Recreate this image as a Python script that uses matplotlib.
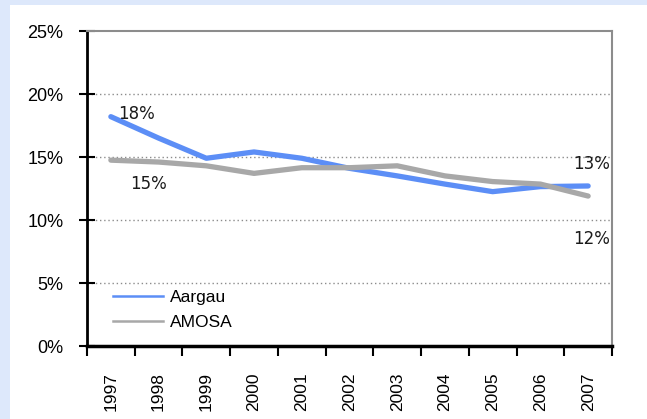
import matplotlib
matplotlib.use("Agg")
import matplotlib.pyplot as plt
from matplotlib.lines import Line2D
from matplotlib.patches import Rectangle
import numpy as np

years = ["1997", "1998", "1999", "2000", "2001", "2002", "2003", "2004", "2005", "2006", "2007"]
aargau = [18.2, 16.5, 14.9, 15.4, 14.9, 14.1, 13.5, 12.85, 12.25, 12.65, 12.7]
amosa = [14.75, 14.6, 14.3, 13.7, 14.15, 14.15, 14.3, 13.5, 13.05, 12.85, 11.9]
yticks = [0, 5, 10, 15, 20, 25]
ytick_labels = ["0%", "5%", "10%", "15%", "20%", "25%"]

BLUE = "#5C8EF6"
GRAY = "#A8A8A8"
BG = "#DDE8FB"

fig = plt.figure(figsize=(6.47, 4.19), dpi=100)
fig.patch.set_facecolor(BG)
fig.add_artist(Rectangle((10 / 647, 0), 1, 1 - 5 / 419, transform=fig.transFigure,
                         facecolor="white", edgecolor="none", zorder=0))

ax = fig.add_axes([87 / 647, 1 - 346 / 419, (612 - 87) / 647, (346 - 31) / 419])
ax.set_facecolor("white")
x = np.arange(len(years))
ax.plot(x, aargau, color=BLUE, lw=3.8, solid_capstyle="round", solid_joinstyle="round", zorder=3)
ax.plot(x, amosa, color=GRAY, lw=3.8, solid_capstyle="round", solid_joinstyle="round", zorder=3)

ax.set_xlim(-0.5, len(years) - 0.5)
ax.set_ylim(0, 25)
ax.set_yticks(yticks)
ax.set_yticklabels(ytick_labels, fontfamily="Liberation Sans", fontsize=13)
ax.tick_params(axis="y", direction="inout", length=12, width=1.5, pad=11)
for yv in yticks[1:-1]:
    ax.axhline(yv, color="#8C8C8C", lw=1.0, ls=(0, (1, 2)), zorder=1)

ax.set_xticks(x)
ax.set_xticklabels(years, rotation=90, fontfamily="Liberation Sans", fontsize=12.5, va="top")
ax.tick_params(axis="x", which="major", length=0, pad=19)
ax.set_xticks(np.arange(-0.5, len(years)), minor=True)
ax.tick_params(axis="x", which="minor", direction="out", length=7, width=1.5)

for s in ["left", "bottom"]:
    ax.spines[s].set_color("black")
ax.spines["left"].set_linewidth(2)
ax.spines["bottom"].set_linewidth(2.5)
for s in ["top", "right"]:
    ax.spines[s].set_color("#8C8C8C")
    ax.spines[s].set_linewidth(1.5)

lab_font = dict(fontfamily="DejaVu Sans", fontsize=12, color="#1a1a1a")
ax.annotate("18%", (0, aargau[0]), xytext=(5, 2), textcoords="offset points", ha="left", va="center", **lab_font)
ax.annotate("15%", (0, amosa[0]), xytext=(14, -17), textcoords="offset points", ha="left", va="center", **lab_font)
ax.annotate("13%", (10, aargau[-1]), xytext=(16, 16), textcoords="offset points", ha="right", va="center", **lab_font)
ax.annotate("12%", (10, amosa[-1]), xytext=(16, -31), textcoords="offset points", ha="right", va="center", **lab_font)

handles = [Line2D([], [], color=BLUE, lw=1.8), Line2D([], [], color=GRAY, lw=1.8)]
ax.legend(handles, ["Aargau", "AMOSA"], loc="lower left", bbox_to_anchor=(0.02, 0.0),
          frameon=False, prop={"family": "Liberation Sans", "size": 12.5},
          handlelength=2.9, handletextpad=0.35, labelspacing=0.6)

fig.savefig("out.png", dpi=100, facecolor=BG)
